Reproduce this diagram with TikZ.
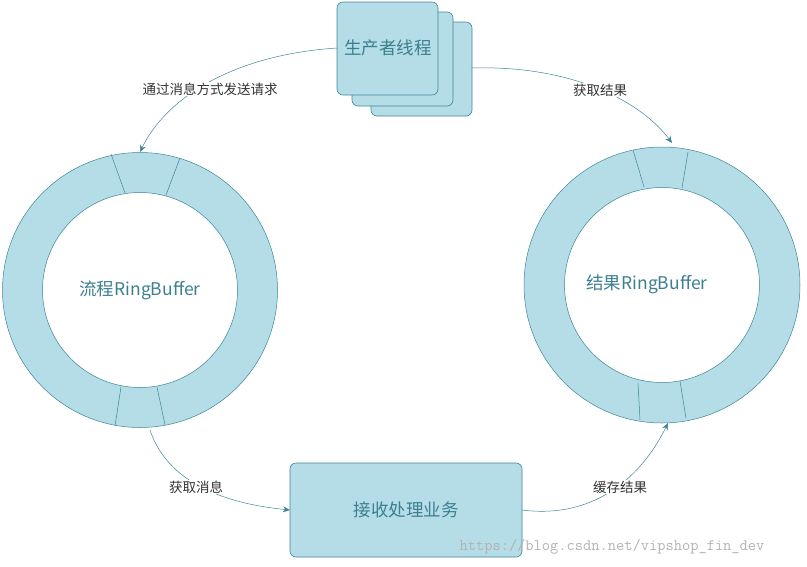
\documentclass[tikz,border=0pt]{standalone}
\usepackage{fontspec}
\setmainfont{Noto Sans CJK SC}
\usetikzlibrary{arrows.meta}
\definecolor{fillc}{HTML}{B5DDE8}
\definecolor{linec}{HTML}{3F8597}
\definecolor{textc}{HTML}{3C7F8F}
\tikzset{
  box/.style={draw=linec,fill=fillc,rounded corners=6pt,line width=0.6pt},
  ring/.style={draw=linec,fill=fillc,even odd rule,line width=0.5pt},
  seg/.style={draw=linec,line width=0.5pt},
  conn/.style={draw=linec,line width=0.5pt,-{Stealth[length=7pt,width=6pt]}},
  lbl/.style={text=black!80,font=\fontsize{13.5pt}{15pt}\selectfont},
  big/.style={text=textc,font=\fontsize{17.5pt}{20pt}\selectfont}
}
\begin{document}
\begin{tikzpicture}[x=1pt,y=-1pt]
\useasboundingbox (0,0) rectangle (807,566);
% rings
\path[ring] (140,290) circle (137.5) (140,290) circle (97.5);
\path[ring] (662,285) circle (138) (662,285) circle (97.5);
\draw[seg] (111,154)--(125,193) (180,158)--(166,195) (121,387)--(115,426) (157,387)--(165,425);
\draw[seg] (633,150)--(644,187) (688,152)--(682,188) (638,383)--(640,420) (680,381)--(686,418);
\node[big] (lrb) at (140,290) {流程RingBuffer};
\node[big] (rrb) at (647,284) {结果RingBuffer};
\coordinate (ltop) at (140,152);
\coordinate (lbot) at (150,430);
\coordinate (rtop) at (672,143);
\coordinate (rbot) at (668,423);
% producer boxes
\path[box] (371,22) rectangle (472,116);
\path[box] (352,12) rectangle (453,106);
\path[box] (337,2) rectangle (438,95);
\node[big] (prod) at (388,48) {生产者线程};
\coordinate (pl) at (337,48);
\coordinate (pr) at (472,68);
% bottom box
\path[box] (290,463) rectangle (522,557);
\node[big] (work) at (406,510) {接收处理业务};
\coordinate (wl) at (290,510);
\coordinate (wr) at (522,510);
% connectors
\draw[conn] (pl) .. controls (230,55) and (165,100) .. (ltop);
\draw[conn] (pr) .. controls (570,65) and (640,100) .. (rtop);
\draw[conn] (lbot) .. controls (170,490) and (240,505) .. (wl);
\draw[conn] (wr) .. controls (600,520) and (645,470) .. (rbot);
\node[lbl,fill=white,inner sep=1pt] (l1) at (210,89) {通过消息方式发送请求};
\node[lbl,fill=white,inner sep=1pt] (l2) at (600,90) {获取结果};
\node[lbl,fill=white,inner sep=1pt] (l3) at (196,487) {获取消息};
\node[lbl,fill=white,inner sep=1pt] (l4) at (620,487) {缓存结果};
\node[text=black!30,font=\ttfamily\fontsize{16pt}{18pt}\selectfont] (wm) at (612,547) {https://blog.csdn.net/vipshop\_fin\_dev};
\end{tikzpicture}
\end{document}
